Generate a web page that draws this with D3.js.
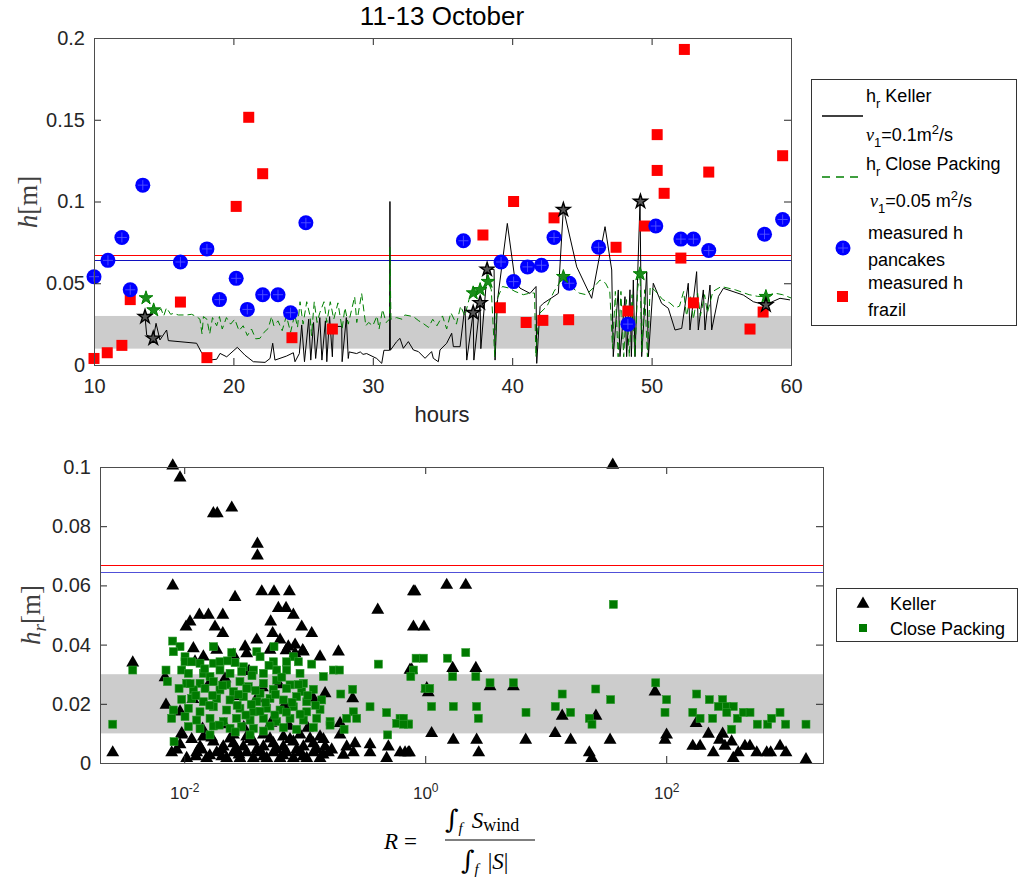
<!DOCTYPE html>
<html>
<head>
<meta charset="utf-8">
<script src="https://cdn.jsdelivr.net/npm/d3@7"></script>
<style>
  body { margin: 0; background: #fff; }
  svg { display: block; font-family: "Liberation Sans", Arial, sans-serif; }
</style>
</head>
<body>
<svg width="1020" height="882"></svg>
<script>
// ---------- data ----------
const topXTicks = [10, 20, 30, 40, 50, 60];
const topYTicks = [0, 0.05, 0.1, 0.15, 0.2];
const topYLabels = ['0', '0.05', '0.1', '0.15', '0.2'];
const botYTicks = [0, 0.02, 0.04, 0.06, 0.08, 0.1];
const botYLabels = ['0', '0.02', '0.04', '0.06', '0.08', '0.1'];
const botXTicks = [0.01, 1, 100];
const botXExp = ['-2', '0', '2'];

const hrRed = 0.067;
const hrBlue = 0.0645;
const band = [0.01, 0.03];

// [hours, h]
const kellerLine = [
  [13.66,0.0296],[13.78,0.0183],[14.26,0.0163],[14.45,0.0255],[14.73,0.0153],[15.21,0.0214],[15.33,0.0149],
  [17.36,0.0133],[17.72,0.0075],[18.2,0.003],[18.8,0.0035],[19.04,0.0071],[19.52,0.005],[20.28,0.0108],
  [20.83,0.006],[21.43,0.002],[22.27,0.0016],[22.63,0.004],[22.82,0.0133],[22.98,0.003],[23.82,0.0055],
  [24.3,0.0075],[24.42,0.002],[24.73,0.007],[24.9,0.0245],[25.1,0.002],[25.4,0.028],[25.55,0.003],
  [25.75,0.026],[25.9,0.004],[26.2,0.029],[26.35,0.003],[26.6,0.027],[26.7,0.002],[26.9,0.0296],
  [27.1,0.005],[27.17,0.0236],[27.77,0.0236],[27.8,0.002],[28.1,0.029],[28.24,0.004],[28.3,0.008],
  [28.84,0.007],[29.1,0.008],[29.3,0.0065],[29.56,0.007],[29.8,0.006],[30.28,0.004],[30.64,0.001],
  [30.8,0.009],[31.2,0.009],[31.23,0.1],[31.26,0.009],[31.71,0.0143],[31.95,0.0163],[32.19,0.0102],
  [32.55,0.0143],[32.91,0.0092],[33.27,0.0082],[33.75,0.0041],[34.22,0.0082],[34.34,0.0041],[34.7,0.002],
  [34.82,0.0092],[35.3,0.0133],[35.66,0.0194],[35.78,0.0112],[36.26,0.0112],[36.61,0.036],[36.74,0.003],
  [37.2,0.032],[37.25,0.003],[37.7,0.038],[37.75,0.01],[38.22,0.0585],[38.7,0.0585],[38.77,0.003],
  [38.95,0.04],[39.65,0.0866],[40.2,0.052],[40.56,0.047],[41.28,0.0438],[41.71,0.048],[41.76,0.001],
  [42.0,0.0357],[42.23,0.0377],[43.31,0.0438],[43.67,0.0958],[44.63,0.06],[45.7,0.0408],[46.66,0.0846],
  [47.14,0.0581],[47.25,0.0051],[47.61,0.0459],[47.73,0.0051],[48.09,0.0418],[48.21,0.0051],[48.45,0.046],
  [48.55,0.0051],[48.69,0.052],[48.81,0.0051],[49.17,0.0999],[49.29,0.0051],[49.65,0.057],[49.77,0.0051],
  [50.12,0.05],[50.72,0.0377],[51.2,0.0347],[51.68,0.0214],[52.16,0.0224],[52.63,0.05],[52.75,0.0214],
  [53.23,0.0571],[53.35,0.0214],[53.71,0.0459],[53.83,0.0214],[54.19,0.0489],[54.31,0.0214],[54.8,0.042],
  [55.15,0.0469],[56.58,0.0428],[57.3,0.0387],[58.14,0.0367],[59.21,0.0408],[59.93,0.0398]
];

const closeLine = [
  [13.73,0.041],[14.28,0.0336],[14.6,0.032],[14.8,0.0345],[15.0,0.030],[15.2,0.035],[15.5,0.031],[15.7,0.0316],
  [16.05,0.0306],[16.65,0.0306],[17.0,0.031],[17.36,0.0296],[17.6,0.028],[17.75,0.019],[17.85,0.0296],[18.1,0.028],
  [18.3,0.019],[18.5,0.029],[18.8,0.024],[19.0,0.0296],[19.2,0.022],[19.5,0.029],[19.8,0.025],[20.1,0.028],
  [20.4,0.021],[20.7,0.024],[21.0,0.018],[21.3,0.022],[21.6,0.016],[21.9,0.0163],[22.2,0.020],[22.5,0.0224],
  [22.74,0.0296],[22.9,0.024],[23.2,0.027],[23.5,0.021],[23.8,0.030],[24.1,0.020],[24.4,0.031],[24.6,0.023],
  [24.78,0.0387],[25.0,0.025],[25.26,0.0387],[25.5,0.030],[25.6,0.018],[25.8,0.0387],[26.0,0.026],[26.2,0.032],
  [26.5,0.0387],[26.7,0.026],[26.95,0.0387],[27.2,0.028],[27.5,0.038],[27.8,0.022],[28.0,0.035],[28.24,0.025],
  [28.7,0.0418],[28.85,0.026],[29.2,0.0438],[29.5,0.024],[29.7,0.026],[30.0,0.024],[30.3,0.03],[30.45,0.022],
  [30.7,0.034],[30.95,0.026],[31.2,0.028],[31.23,0.072],[31.3,0.028],[31.7,0.029],[32.1,0.028],[32.3,0.0306],
  [32.91,0.0296],[33.3,0.027],[33.6,0.0255],[34.0,0.023],[34.3,0.028],[34.6,0.024],[35.0,0.03],[35.3,0.022],
  [35.6,0.032],[36.0,0.025],[36.3,0.036],[36.6,0.03],[36.9,0.04],[37.2,0.044],[37.7,0.046],[38.26,0.051],
  [38.5,0.046],[38.75,0.005],[38.9,0.04],[39.3,0.048],[39.8,0.047],[40.2,0.045],[40.8,0.043],[41.3,0.044],
  [41.6,0.044],[41.7,0.005],[41.9,0.031],[42.5,0.036],[43.0,0.045],[43.67,0.054],[44.2,0.048],[44.8,0.044],
  [45.3,0.043],[45.8,0.047],[46.3,0.052],[46.7,0.05],[47.0,0.045],[47.2,0.01],[47.4,0.045],[47.6,0.005],
  [47.8,0.045],[48.0,0.005],[48.2,0.04],[48.4,0.005],[48.6,0.043],[48.8,0.005],[49.0,0.047],[49.17,0.0557],
  [49.3,0.008],[49.5,0.046],[49.7,0.005],[49.9,0.048],[50.3,0.045],[50.8,0.04],[51.3,0.038],[51.7,0.035],
  [52.0,0.036],[52.3,0.045],[52.5,0.03],[52.8,0.042],[53.0,0.028],[53.3,0.044],[53.5,0.03],[53.8,0.043],
  [54.0,0.032],[54.4,0.045],[55.0,0.048],[56.0,0.046],[57.0,0.043],[57.6,0.042],[58.2,0.0418],[58.8,0.044],
  [59.4,0.043],[60.0,0.041]
];

const pancakes = [
  [10.0,0.054],[11.0,0.064],[12.0,0.078],[12.6,0.046],[13.5,0.110],[16.2,0.063],[18.1,0.071],[19.0,0.040],
  [20.2,0.053],[21.0,0.034],[22.1,0.043],[23.2,0.043],[24.1,0.032],[25.2,0.087],[36.5,0.076],[39.2,0.063],
  [40.1,0.051],[41.1,0.060],[42.1,0.061],[43.0,0.078],[44.1,0.050],[46.2,0.072],[48.3,0.025],[50.3,0.085],
  [52.1,0.077],[53.0,0.077],[54.1,0.070],[58.1,0.080],[59.4,0.089]
];

const frazil = [
  [10.0,0.004],[10.95,0.0075],[12.0,0.012],[12.6,0.040],[16.2,0.0385],[18.1,0.0045],[20.2,0.097],[21.1,0.1515],
  [22.1,0.117],[24.2,0.0167],[27.1,0.022],[37.9,0.0795],[39.15,0.035],[40.1,0.100],[41.0,0.026],[42.2,0.0273],
  [43.0,0.090],[44.05,0.0277],[47.45,0.072],[48.3,0.033],[49.5,0.085],[50.4,0.1409],[50.4,0.119],[50.9,0.105],
  [52.35,0.193],[52.1,0.0654],[53.0,0.038],[54.1,0.118],[57.06,0.022],[58.0,0.0324],[59.4,0.128]
];

const kellerStars = [[13.66,0.0295],[14.25,0.0163],[37.2,0.032],[37.7,0.038],[38.2,0.0585],[43.67,0.095],[49.2,0.100],[58.2,0.0367]];
const closeStars = [[13.73,0.041],[14.28,0.0336],[37.2,0.044],[37.7,0.046],[38.26,0.051],[43.67,0.054],[49.17,0.0557],[58.2,0.0418]];

// [R, h_r]
const kellerScatter = [
  [0.00255,0.0035],[0.00374,0.0339],[0.00803,0.1004],[0.00923,0.0964],[0.01745,0.0843],[0.0188,0.0843],[0.0248,0.0862],
  [0.0405,0.074],[0.0405,0.070],[0.00803,0.0599],[0.0264,0.056],[0.044,0.0579],[0.0556,0.0579],[0.0746,0.0579],
  [0.0604,0.0523],[0.070,0.0523],[0.0805,0.050],[0.0522,0.0477],[0.01117,0.0477],[0.01336,0.050],[0.01588,0.050],
  [0.0209,0.050],[0.01035,0.046],[0.018,0.046],[0.0209,0.0438],[0.032,0.0393],[0.040,0.0416],[0.0542,0.0438],
  [0.0624,0.0416],[0.0944,0.046],[0.1143,0.0438],[0.0962,0.038],[0.070,0.038],[0.0832,0.0399],[0.1905,0.0376],
  [0.4036,0.0517],[0.798,0.0579],[0.798,0.046],[0.00706,0.0196],[0.00923,0.0173],[0.00953,0.010],
  [0.01229,0.0342],[0.01442,0.0359],[0.01191,0.0387],[0.0186,0.0382],[0.0256,0.0365],[0.033,0.037],[0.0515,0.0382],
  [0.0731,0.0393],[0.0831,0.037],[0.0975,0.0376],[0.134,0.0359],[0.00693,0.0289],[0.7477,0.0314],
  [0.25,0.0218],[0.1965,0.0134],[0.1476,0.0235],[0.04,0.0218],[0.118,0.0218],
  [0.00787,0.0035],[0.01048,0.0016],[0.01269,0.0035],[0.01536,0.0016],[0.0186,0.0035],[0.0225,0.0016],[0.0256,0.0035],
  [0.029,0.0016],[0.033,0.0035],[0.0375,0.0016],[0.0426,0.0035],[0.0484,0.0016],[0.0549,0.0035],[0.0624,0.0016],
  [0.0708,0.0035],[0.0805,0.0016],[0.0914,0.0035],[0.1039,0.0016],[0.118,0.0035],[0.134,0.0016],[0.1572,0.0035],
  [0.2094,0.0027],[0.2533,0.0035],[0.3483,0.0035],[0.4786,0.0016],[0.618,0.0035],[0.7244,0.0035],
  [0.00923,0.0062],[0.01352,0.0055],[0.01745,0.0072],[0.0211,0.0055],[0.0256,0.0066],[0.031,0.0055],[0.0375,0.0072],
  [0.0454,0.0055],[0.0549,0.0066],[0.0665,0.0055],[0.0805,0.0072],[0.0975,0.0055],[0.118,0.0066],[0.1476,0.0055],
  [0.223,0.0055],[0.2616,0.0066],[0.3483,0.0062],[0.4943,0.0055],
  [0.00953,0.0095],[0.01442,0.0089],[0.0256,0.0095],[0.033,0.0089],[0.0454,0.0095],[0.0665,0.0089],[0.0914,0.0095],
  [0.134,0.0089],[0.1965,0.0095],
  [0.00866,0.0045],[0.01153,0.008],[0.01396,0.0045],[0.0169,0.0085],[0.02047,0.0045],[0.024,0.0082],[0.0273,0.0045],
  [0.0352,0.008],[0.04,0.0045],[0.0515,0.0082],[0.0585,0.0045],[0.0755,0.008],[0.0857,0.0045],[0.1107,0.0082],
  [0.1258,0.0045],[0.1429,0.008],[0.1675,0.0045],[0.0125,0.0022],[0.0163,0.0025],[0.0205,0.0022],[0.0285,0.0028],
  [0.0455,0.0022],[0.066,0.0025],[0.097,0.0022],[0.142,0.0028],[0.0142,0.0115],[0.0215,0.013],[0.0312,0.012],
  [0.0525,0.0135],[0.0742,0.0125],[0.106,0.0118],[0.0165,0.0275],[0.0262,0.0225],[0.061,0.0265],[0.0345,0.031],
  [0.068,0.0195],[0.0118,0.0215],[0.0218,0.0285],[0.0445,0.0255],
  [0.822,0.0579],[1.507,0.0601],[2.17,0.0601],[0.977,0.046],[36.0,0.1007],[0.773,0.0314],[1.69,0.032],[2.63,0.032],
  [1.03,0.0252],[1.06,0.0238],[3.45,0.0258],[5.39,0.0258],[13.7,0.0159],[26.1,0.0159],[1.13,0.010],[1.71,0.0078],
  [2.67,0.0078],[2.78,0.0035],[6.82,0.0078],[11.97,0.010],[16.1,0.0078],[23.0,0.0035],[24.1,0.0016],[34.2,0.0078],
  [80.7,0.0241],[100.7,0.0095],[97.7,0.0078],[177,0.0134],[224,0.0098],[294,0.0098],[277,0.0078],[166,0.0057],
  [191,0.0057],[246,0.0035],[307,0.0057],[349,0.0072],[360,0.0016],[396,0.0035],[450,0.0057],[495,0.0057],
  [564,0.0035],[682,0.0035],[736,0.0035],[880,0.0057],[986,0.0035],[1445,0.0012],[0.68,0.0035],[0.74,0.0035]
];

const closeScatter = [
  [0.00255,0.0131],[0.00374,0.0314],
  [0.00802,0.0412],[0.00923,0.0393],[0.01745,0.0393],[0.0556,0.0393],
  [0.00812,0.0376],[0.01015,0.0359],[0.0248,0.0373],[0.040,0.0376],[0.0805,0.0359],
  [0.01015,0.0342],[0.01153,0.0342],[0.01352,0.0337],[0.01745,0.0337],[0.0198,0.0342],[0.0264,0.0339],[0.031,0.0325],
  [0.0426,0.0359],[0.0549,0.0342],[0.0708,0.0342],[0.0885,0.0342],[0.1143,0.0334],
  [0.00706,0.0314],[0.00953,0.0314],[0.01082,0.0303],[0.01442,0.0303],[0.01637,0.0292],[0.0198,0.0314],[0.024,0.0303],
  [0.030,0.0309],[0.0375,0.0314],[0.0454,0.0303],[0.0585,0.0314],[0.0708,0.0314],[0.0914,0.0303],[0.1429,0.0292],
  [0.1729,0.0314],[0.194,0.0314],[0.4085,0.0334],
  [0.00725,0.0275],[0.01048,0.0269],[0.01352,0.0269],[0.01745,0.0275],[0.0225,0.0264],[0.029,0.0275],[0.034,0.0258],
  [0.0454,0.0269],[0.0585,0.028],[0.0755,0.0264],[0.0975,0.0269],
  [0.00906,0.0252],[0.01191,0.0247],[0.01488,0.0252],[0.0198,0.0247],[0.0256,0.0241],[0.033,0.0252],[0.0426,0.0235],
  [0.0549,0.0249],[0.0708,0.0252],[0.0944,0.0241],[0.118,0.0249],[0.25,0.0249],
  [0.00953,0.0215],[0.01153,0.0218],[0.01442,0.0207],[0.0186,0.0218],[0.024,0.0213],[0.031,0.0224],[0.04,0.0207],
  [0.0515,0.0218],[0.0665,0.0213],[0.0857,0.0224],[0.1039,0.0207],[0.1384,0.0213],[0.1991,0.0233],
  [0.00812,0.0179],[0.01082,0.0185],[0.01352,0.0173],[0.01745,0.019],[0.0225,0.0179],[0.029,0.0185],[0.0375,0.0173],
  [0.0484,0.0185],[0.0624,0.0179],[0.0805,0.019],[0.1039,0.0173],[0.134,0.0181],[0.2533,0.0173],[0.3483,0.019],
  [0.4786,0.017],
  [0.00787,0.0151],[0.01015,0.0157],[0.01269,0.0145],[0.01637,0.0151],[0.0211,0.014],[0.0272,0.0151],[0.0352,0.0145],
  [0.0454,0.0151],[0.0585,0.014],[0.0755,0.0151],[0.0975,0.0145],[0.1258,0.0151],[0.1623,0.014],[0.223,0.0151],
  [0.27,0.0151],[0.618,0.0151],
  [0.01082,0.0123],[0.01352,0.0117],[0.01745,0.0125],[0.024,0.0117],[0.0299,0.0123],[0.0375,0.0117],[0.0515,0.0125],
  [0.0665,0.012],[0.0857,0.0114],[0.118,0.012],[0.1623,0.0128],[0.2122,0.0114],[0.5795,0.0134],[0.7244,0.0132],
  [0.01637,0.0095],[0.0352,0.0095],[0.4879,0.0095],[0.00823,0.0072],
  [0.0125,0.0228],[0.0163,0.0195],[0.0208,0.0262],[0.0275,0.0195],[0.0325,0.0162],[0.0392,0.0245],[0.0475,0.0205],
  [0.0565,0.0162],[0.0645,0.029],[0.0785,0.0205],[0.0915,0.0165],[0.0195,0.0128],[0.0265,0.0105],[0.0455,0.0108],
  [0.0148,0.0318],[0.0228,0.0345],[0.0365,0.0295],[0.0505,0.033],[0.0112,0.0268],[0.0172,0.0228],[0.0282,0.0232],
  [0.036,0.0198],[0.0425,0.0175],[0.057,0.0232],[0.0705,0.0172],[0.0885,0.0265],[0.106,0.0228],[0.123,0.0195],
  [36.4,0.0536],[0.84,0.0354],[0.966,0.0354],[1.53,0.0354],[2.17,0.0373],[0.798,0.0314],[0.759,0.0292],[1.69,0.0292],
  [2.63,0.0292],[1.0,0.0252],[1.09,0.0252],[3.45,0.0271],[5.39,0.0271],[13.7,0.0233],[26.0,0.025],[34.6,0.0214],
  [81.8,0.0271],[100.7,0.0214],[97.7,0.0171],[179,0.0233],[228,0.0214],[294,0.0214],[271,0.0191],[318,0.0191],
  [360,0.0191],[166,0.0171],[191,0.0151],[243,0.0151],[318,0.0171],[390,0.0151],[437,0.0171],[496,0.0171],
  [570,0.0131],[695,0.0131],[750,0.0151],[880,0.0171],[980,0.0131],[1445,0.0131],[349,0.0114],[6.86,0.0171],
  [12.0,0.0191],[16.1,0.0171],[23.0,0.0151],[24.2,0.0131],[1.71,0.0191],[1.13,0.0191],[2.67,0.0191],[2.76,0.0151],
  [0.659,0.0151],[0.724,0.0131],[0.66,0.0131]
];

// ---------- drawing ----------
const svg = d3.select('svg');
const axisColor = '#262626';
const green = '#008000';

const xTop = d3.scaleLinear().domain([10, 60]).range([94, 791]);
const yTop = d3.scaleLinear().domain([0, 0.2]).range([365, 38]);
const xBot = d3.scaleLog().domain([0.002, 2000]).range([100, 823]);
const yBot = d3.scaleLinear().domain([0, 0.1]).range([763, 467]);
const crisp = v => Math.round(v) + 0.5;

svg.append('defs').append('clipPath').attr('id', 'clipTop')
  .append('rect').attr('x', 94).attr('y', 38).attr('width', 697).attr('height', 327);

const styleAxis = (g, size) => {
  g.attr('font-family', '"Liberation Sans", Arial, sans-serif').attr('font-size', size);
  g.select('.domain').remove();
  g.selectAll('line').attr('stroke', axisColor);
  g.selectAll('text').attr('fill', axisColor);
};

const drawFrame = (x0, y0, x1, y1) => {
  svg.append('rect').attr('x', x0 + 0.5).attr('y', y0 + 0.5)
    .attr('width', x1 - x0).attr('height', y1 - y0)
    .attr('fill', 'none').attr('stroke', '#4d4d4d').attr('stroke-width', 1);
};

// ===== top panel =====
const topG = svg.append('g');
topG.append('rect')
  .attr('x', xTop(10)).attr('width', xTop(60) - xTop(10))
  .attr('y', yTop(band[1])).attr('height', yTop(band[0]) - yTop(band[1]))
  .attr('fill', '#cccccc');

topG.append('line').attr('x1', xTop(10)).attr('x2', xTop(60))
  .attr('y1', crisp(yTop(hrRed))).attr('y2', crisp(yTop(hrRed))).attr('stroke', '#ff0000').attr('stroke-width', 1.2);
topG.append('line').attr('x1', xTop(10)).attr('x2', xTop(60))
  .attr('y1', crisp(yTop(hrBlue))).attr('y2', crisp(yTop(hrBlue))).attr('stroke', '#1010c0').attr('stroke-width', 1);

const lineTop = d3.line().x(d => xTop(d[0])).y(d => yTop(d[1]));

topG.append('path').datum(kellerLine).attr('d', lineTop)
  .attr('fill', 'none').attr('stroke', '#000').attr('stroke-width', 1).attr('clip-path', 'url(#clipTop)');
topG.append('path').datum(closeLine).attr('d', lineTop)
  .attr('fill', 'none').attr('stroke', green).attr('stroke-width', 1)
  .attr('stroke-dasharray', '7,4').attr('clip-path', 'url(#clipTop)');

topG.selectAll('.frazil').data(frazil).enter().append('rect')
  .attr('x', d => xTop(d[0]) - 5.5).attr('y', d => yTop(d[1]) - 5.5)
  .attr('width', 11).attr('height', 11).attr('fill', '#ff0000');

const pan = topG.selectAll('.pan').data(pancakes).enter().append('g')
  .attr('transform', d => `translate(${xTop(d[0])},${yTop(d[1])})`);
pan.append('circle').attr('r', 7.5).attr('fill', '#0000ff');
pan.append('path').attr('d', 'M-5,0H5M0,-5V5').attr('stroke', '#5a5aff').attr('stroke-width', 0.8);

const star = d3.symbol().type(d3.symbolStar).size(58);
topG.selectAll('.gstar').data(closeStars).enter().append('path')
  .attr('d', star).attr('transform', d => `translate(${xTop(d[0])},${yTop(d[1])})`)
  .attr('fill', '#1a8c1a').attr('stroke', green).attr('stroke-width', 1);
topG.selectAll('.kstar').data(kellerStars).enter().append('path')
  .attr('d', star).attr('transform', d => `translate(${xTop(d[0])},${yTop(d[1])})`)
  .attr('fill', '#555').attr('stroke', '#000').attr('stroke-width', 1.4);

// axes top
const gx = svg.append('g').attr('transform', 'translate(0,365)')
  .call(d3.axisBottom(xTop).tickValues(topXTicks).tickSize(-7).tickPadding(14).tickFormat(d3.format('d')));
styleAxis(gx, 20);
const gx2 = svg.append('g').attr('transform', 'translate(0,38)')
  .call(d3.axisTop(xTop).tickValues(topXTicks).tickSize(-7).tickFormat(''));
styleAxis(gx2, 20);
const gy = svg.append('g').attr('transform', 'translate(94,0)')
  .call(d3.axisLeft(yTop).tickValues(topYTicks).tickSize(-7).tickPadding(9)
    .tickFormat((d, i) => topYLabels[i]));
styleAxis(gy, 20);
const gy2 = svg.append('g').attr('transform', 'translate(791,0)')
  .call(d3.axisRight(yTop).tickValues(topYTicks).tickSize(-7).tickFormat(''));
styleAxis(gy2, 20);
drawFrame(94, 38, 791, 365);

svg.append('text').attr('x', 442).attr('y', 25).attr('text-anchor', 'middle')
  .attr('font-size', 26).attr('fill', '#000').text('11-13 October');
svg.append('text').attr('x', 442).attr('y', 422).attr('text-anchor', 'middle')
  .attr('font-size', 22).attr('fill', axisColor).text('hours');

const yl1 = svg.append('text').attr('transform', 'translate(37,202) rotate(-90)')
  .attr('text-anchor', 'middle').attr('font-family', '"Liberation Serif", "Times New Roman", serif')
  .attr('font-size', 27).attr('fill', '#404040');
yl1.append('tspan').attr('font-style', 'italic').text('h');
yl1.append('tspan').text('[m]');

// legend top
const lg = svg.append('g').attr('font-size', 18).attr('fill', '#000');
lg.append('rect').attr('x', 811.5).attr('y', 79.5).attr('width', 205).attr('height', 246)
  .attr('fill', '#fff').attr('stroke', '#333').attr('stroke-width', 1);
lg.append('line').attr('x1', 822).attr('x2', 863).attr('y1', 116).attr('y2', 116)
  .attr('stroke', '#000').attr('stroke-width', 1.3);
lg.append('line').attr('x1', 822).attr('x2', 863).attr('y1', 177).attr('y2', 177)
  .attr('stroke', green).attr('stroke-width', 1.3).attr('stroke-dasharray', '8,6');
lg.append('circle').attr('cx', 843).attr('cy', 248).attr('r', 7.5).attr('fill', '#0000ff');
lg.append('path').attr('d', 'M838,248H848M843,243V253').attr('stroke', '#5a5aff').attr('stroke-width', 0.8);
lg.append('rect').attr('x', 837).attr('y', 291).attr('width', 11).attr('height', 11).attr('fill', '#ff0000');

const t1 = lg.append('text').attr('x', 866).attr('y', 102);
t1.append('tspan').text('h');
t1.append('tspan').attr('font-size', 13).attr('dy', 6).text('r');
t1.append('tspan').attr('dy', -6).text(' Keller');
const t2 = lg.append('text').attr('x', 866).attr('y', 141);
t2.append('tspan').attr('font-family', '"Liberation Serif", serif').attr('font-style', 'italic').text('ν');
t2.append('tspan').attr('font-size', 13).attr('dy', 6).text('1');
t2.append('tspan').attr('dy', -6).text('=0.1m');
t2.append('tspan').attr('font-size', 13).attr('dy', -7).text('2');
t2.append('tspan').attr('dy', 7).text('/s');
const t3 = lg.append('text').attr('x', 866).attr('y', 170);
t3.append('tspan').text('h');
t3.append('tspan').attr('font-size', 13).attr('dy', 6).text('r');
t3.append('tspan').attr('dy', -6).text(' Close Packing');
const t4 = lg.append('text').attr('x', 870).attr('y', 207);
t4.append('tspan').attr('font-family', '"Liberation Serif", serif').attr('font-style', 'italic').text('ν');
t4.append('tspan').attr('font-size', 13).attr('dy', 6).text('1');
t4.append('tspan').attr('dy', -6).text('=0.05 m');
t4.append('tspan').attr('font-size', 13).attr('dy', -7).text('2');
t4.append('tspan').attr('dy', 7).text('/s');
lg.append('text').attr('x', 868).attr('y', 239).text('measured h');
lg.append('text').attr('x', 868).attr('y', 266).text('pancakes');
lg.append('text').attr('x', 868).attr('y', 289).text('measured h');
lg.append('text').attr('x', 868).attr('y', 316).text('frazil');

// ===== bottom panel =====
const botG = svg.append('g');
botG.append('rect')
  .attr('x', xBot(0.002)).attr('width', xBot(2000) - xBot(0.002))
  .attr('y', yBot(band[1])).attr('height', yBot(band[0]) - yBot(band[1]))
  .attr('fill', '#cccccc');
botG.append('line').attr('x1', xBot(0.002)).attr('x2', xBot(2000))
  .attr('y1', crisp(yBot(hrRed))).attr('y2', crisp(yBot(hrRed))).attr('stroke', '#ff0000').attr('stroke-width', 1.1);
botG.append('line').attr('x1', xBot(0.002)).attr('x2', xBot(2000))
  .attr('y1', crisp(yBot(hrBlue))).attr('y2', crisp(yBot(hrBlue))).attr('stroke', '#5050d8').attr('stroke-width', 1);

const tri = d3.symbol().type(d3.symbolTriangle).size(72);
botG.selectAll('.ktri').data(kellerScatter).enter().append('path')
  .attr('d', tri).attr('transform', d => `translate(${xBot(d[0])},${yBot(d[1])})`)
  .attr('fill', '#000');
botG.selectAll('.csq').data(closeScatter).enter().append('rect')
  .attr('x', d => xBot(d[0]) - 4).attr('y', d => yBot(d[1]) - 4)
  .attr('width', 8).attr('height', 8).attr('fill', '#007a00').attr('stroke', '#2e9a2e').attr('stroke-width', 0.6);

const bx = svg.append('g').attr('transform', 'translate(0,763)')
  .call(d3.axisBottom(xBot).tickValues(botXTicks).tickSize(-7).tickPadding(24).tickFormat(''));
styleAxis(bx, 17);
bx.selectAll('.tick text').each(function (d, i) {
  const t = d3.select(this).attr('dy', '0.71em');
  t.append('tspan').text('10');
  t.append('tspan').attr('font-size', 12).attr('dy', '-0.6em').text(botXExp[i]);
});
const bx2 = svg.append('g').attr('transform', 'translate(0,467)')
  .call(d3.axisTop(xBot).tickValues(botXTicks).tickSize(-7).tickFormat(''));
styleAxis(bx2, 17);
const by = svg.append('g').attr('transform', 'translate(100,0)')
  .call(d3.axisLeft(yBot).tickValues(botYTicks).tickSize(-7).tickPadding(9)
    .tickFormat((d, i) => botYLabels[i]));
styleAxis(by, 20);
const by2 = svg.append('g').attr('transform', 'translate(823,0)')
  .call(d3.axisRight(yBot).tickValues(botYTicks).tickSize(-7).tickFormat(''));
styleAxis(by2, 20);
drawFrame(100, 467, 823, 763);

const yl2 = svg.append('text').attr('transform', 'translate(40,615) rotate(-90)')
  .attr('text-anchor', 'middle').attr('font-family', '"Liberation Serif", "Times New Roman", serif')
  .attr('font-size', 27).attr('fill', '#404040');
yl2.append('tspan').attr('font-style', 'italic').text('h');
yl2.append('tspan').attr('font-style', 'italic').attr('font-size', 19).attr('dy', 6).text('r');
yl2.append('tspan').attr('dy', -6).text('[m]');

// x label: R = ∫f Swind / ∫f |S|
const fm = svg.append('g').attr('font-family', '"Liberation Serif", "Times New Roman", serif')
  .attr('font-size', 23).attr('fill', '#000');
fm.append('text').attr('x', 384).attr('y', 849).attr('font-style', 'italic').text('R');
fm.append('text').attr('x', 404).attr('y', 849).text('=');
fm.append('line').attr('x1', 445).attr('x2', 535).attr('y1', 840).attr('y2', 840)
  .attr('stroke', '#000').attr('stroke-width', 1);
const num = fm.append('text').attr('x', 445).attr('y', 828);
num.append('tspan').attr('font-family', '"DejaVu Serif", serif').attr('font-size', 26).text('∫');
num.append('tspan').attr('font-style', 'italic').attr('font-size', 15).attr('dy', 5).text('f');
num.append('tspan').attr('dy', -5).attr('dx', 9).attr('font-style', 'italic').text('S');
num.append('tspan').attr('dy', 3).attr('font-size', 18).text('wind');
const den = fm.append('text').attr('x', 461).attr('y', 869);
den.append('tspan').attr('font-family', '"DejaVu Serif", serif').attr('font-size', 26).text('∫');
den.append('tspan').attr('font-style', 'italic').attr('font-size', 15).attr('dy', 5).text('f');
den.append('tspan').attr('dy', -5).attr('dx', 9).text('|');
den.append('tspan').attr('font-style', 'italic').text('S');
den.append('tspan').text('|');

// legend bottom
const lb = svg.append('g').attr('font-size', 18).attr('fill', '#000');
lb.append('rect').attr('x', 836.5).attr('y', 588.5).attr('width', 181).attr('height', 53)
  .attr('fill', '#fff').attr('stroke', '#333').attr('stroke-width', 1);
lb.append('path').attr('d', tri).attr('transform', 'translate(863,604)').attr('fill', '#000');
lb.append('rect').attr('x', 859).attr('y', 624).attr('width', 8).attr('height', 8).attr('fill', '#007a00');
lb.append('text').attr('x', 890).attr('y', 610).text('Keller');
lb.append('text').attr('x', 890).attr('y', 635).text('Close Packing');
</script>
</body>
</html>
